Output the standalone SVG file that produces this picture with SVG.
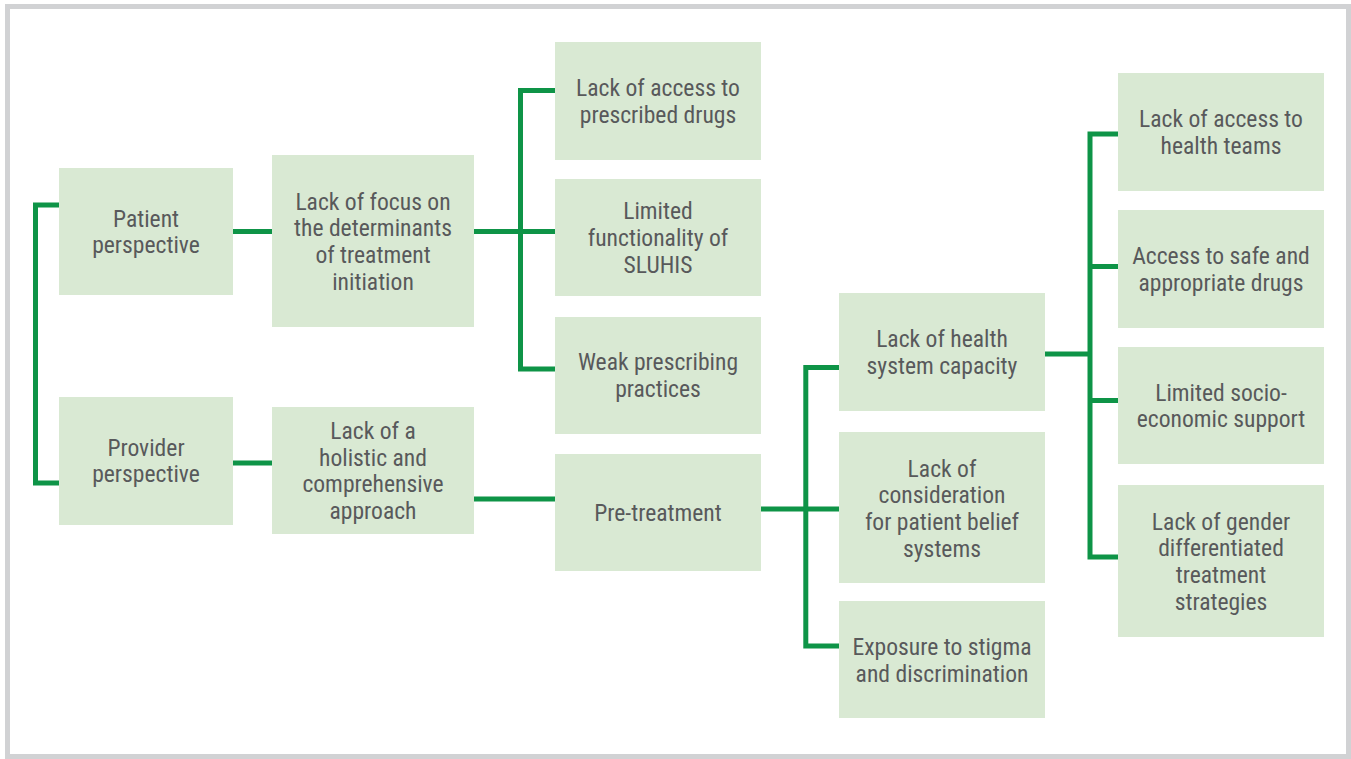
<svg xmlns="http://www.w3.org/2000/svg" width="1351" height="759" viewBox="0 0 1351 759">
  <style>
    .box { fill: #d9e9d3; }
    .lbl { font-family: "Liberation Sans Narrow", "Roboto Condensed", "DejaVu Sans Condensed", sans-serif; font-size: 23.6px; fill: #58595b; text-anchor: middle; }
    .wire { fill: none; stroke: #0e9447; stroke-width: 5; stroke-linecap: butt; stroke-linejoin: miter; }
  </style>

  <rect x="0" y="0" width="1351" height="759" fill="#ffffff"/>
  <!-- outer frame -->
  <rect x="7.5" y="6.5" width="1341" height="750" fill="none" stroke="#d1d2d4" stroke-width="5"/>

  <!-- connectors -->
  <g id="connectors" class="wire">
    <!-- root bracket joining the two perspectives -->
    <path d="M59 205 H35.5 V483 H59"/>
    <!-- patient branch -->
    <path d="M233 231.5 H272"/>
    <path d="M474 231.5 H555"/>
    <path d="M555 90.5 H520.5 V369 H555"/>
    <!-- provider branch -->
    <path d="M233 463 H272"/>
    <path d="M474 499 H555"/>
    <path d="M761 509 H839"/>
    <path d="M839 367.5 H805.8 V646 H839"/>
    <!-- health system capacity branch -->
    <path d="M1045 354 H1090"/>
    <path d="M1118 134 H1090 V557 H1118"/>
    <path d="M1090 266.5 H1118"/>
    <path d="M1090 400.5 H1118"/>
  </g>

  <!-- column 1 -->
  <g id="patient-perspective">
    <rect class="box" x="59" y="168" width="174" height="127"/>
    <text class="lbl" x="146" y="226.7">Patient</text>
    <text class="lbl" x="146" y="253.4">perspective</text>
  </g>
  <g id="provider-perspective">
    <rect class="box" x="59" y="397" width="174" height="128"/>
    <text class="lbl" x="146" y="455.5">Provider</text>
    <text class="lbl" x="146" y="482.2">perspective</text>
  </g>

  <!-- column 2 -->
  <g id="lack-of-focus">
    <rect class="box" x="272" y="155" width="202" height="172"/>
    <text class="lbl" x="373" y="209.5">Lack of focus on</text>
    <text class="lbl" x="373" y="236.2">the determinants</text>
    <text class="lbl" x="373" y="262.9">of treatment</text>
    <text class="lbl" x="373" y="289.6">initiation</text>
  </g>
  <g id="lack-of-holistic">
    <rect class="box" x="272" y="407" width="202" height="127"/>
    <text class="lbl" x="373" y="439">Lack of a</text>
    <text class="lbl" x="373" y="465.7">holistic and</text>
    <text class="lbl" x="373" y="492.4">comprehensive</text>
    <text class="lbl" x="373" y="519.1">approach</text>
  </g>

  <!-- column 3 -->
  <g id="lack-of-access-drugs">
    <rect class="box" x="555" y="42" width="206" height="118"/>
    <text class="lbl" x="658" y="96.2">Lack of access to</text>
    <text class="lbl" x="658" y="122.9">prescribed drugs</text>
  </g>
  <g id="limited-functionality">
    <rect class="box" x="555" y="179" width="206" height="117"/>
    <text class="lbl" x="658" y="219.3">Limited</text>
    <text class="lbl" x="658" y="246">functionality of</text>
    <text class="lbl" x="658" y="272.7">SLUHIS</text>
  </g>
  <g id="weak-prescribing">
    <rect class="box" x="555" y="317" width="206" height="117"/>
    <text class="lbl" x="658" y="370.2">Weak prescribing</text>
    <text class="lbl" x="658" y="396.9">practices</text>
  </g>
  <g id="pre-treatment">
    <rect class="box" x="555" y="454" width="206" height="117"/>
    <text class="lbl" x="658" y="521">Pre-treatment</text>
  </g>

  <!-- column 4 -->
  <g id="health-system-capacity">
    <rect class="box" x="839" y="293" width="206" height="118"/>
    <text class="lbl" x="942" y="347.2">Lack of health</text>
    <text class="lbl" x="942" y="373.9">system capacity</text>
  </g>
  <g id="patient-belief">
    <rect class="box" x="839" y="432" width="206" height="151"/>
    <text class="lbl" x="942" y="476.5">Lack of</text>
    <text class="lbl" x="942" y="503.2">consideration</text>
    <text class="lbl" x="942" y="529.9">for patient belief</text>
    <text class="lbl" x="942" y="556.6">systems</text>
  </g>
  <g id="stigma">
    <rect class="box" x="839" y="601" width="206" height="117"/>
    <text class="lbl" x="942" y="654.8">Exposure to stigma</text>
    <text class="lbl" x="942" y="681.5">and discrimination</text>
  </g>

  <!-- column 5 -->
  <g id="health-teams">
    <rect class="box" x="1118" y="73" width="206" height="118"/>
    <text class="lbl" x="1221" y="127.2">Lack of access to</text>
    <text class="lbl" x="1221" y="153.9">health teams</text>
  </g>
  <g id="safe-drugs">
    <rect class="box" x="1118" y="210" width="206" height="118"/>
    <text class="lbl" x="1221" y="264.2">Access to safe and</text>
    <text class="lbl" x="1221" y="290.9">appropriate drugs</text>
  </g>
  <g id="socio-economic">
    <rect class="box" x="1118" y="347" width="206" height="117"/>
    <text class="lbl" x="1221" y="400.7">Limited socio-</text>
    <text class="lbl" x="1221" y="427.4">economic support</text>
  </g>
  <g id="gender-strategies">
    <rect class="box" x="1118" y="485" width="206" height="152"/>
    <text class="lbl" x="1221" y="529.5">Lack of gender</text>
    <text class="lbl" x="1221" y="556.2">differentiated</text>
    <text class="lbl" x="1221" y="582.9">treatment</text>
    <text class="lbl" x="1221" y="609.6">strategies</text>
  </g>
</svg>
